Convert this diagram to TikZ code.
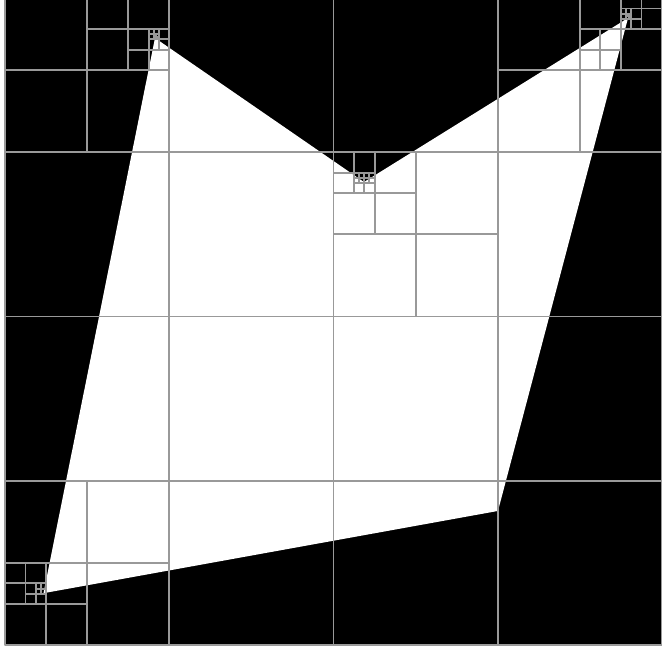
\documentclass[tikz,border=0pt]{standalone}
\begin{document}
\begin{tikzpicture}[x=1pt, y=-1pt, line join=round, line cap=rect,
    cellline/.style={draw=black!40, line width=1.9pt}]
  \useasboundingbox (0,0) rectangle (662,648);
  \clip (0,0) rectangle (662,648);
  \fill[white] (0,0) rectangle (662,648);
  \begin{scope}[shift={(5,-12)}, x=10.266pt, y=-10.266pt]
    % --- background ------------------------------------------------
    \fill[black] (0,0) rectangle (64,64);
    % --- shape -----------------------------------------------------
    \fill[white] (14.61,4.87) -- (34.97,18.90) -- (60.69,2.92)
      -- (48.02,50.94) -- (3.75,58.95) -- cycle;
    % --- quadtree --------------------------------------------------
    \draw[cellline] (0,0) rectangle (64,64);
    \foreach \cx/\cy/\h in {32/32/32,
        16/16/16, 48/16/16, 16/48/16, 48/48/16,
        8/8/8, 56/8/8, 40/24/8, 8/56/8,
        12/4/4, 60/4/4, 36/20/4, 4/60/4,
        14/6/2, 62/2/2, 58/6/2, 34/18/2, 2/58/2,
        15/5/1, 61/3/1, 35/19/1, 3/59/1,
        14.5/4.5/0.5, 60.5/2.5/0.5, 34.5/18.5/0.5, 35.5/18.5/0.5, 3.5/58.5/0.5,
        14.75/4.75/0.25, 60.75/2.75/0.25}
      \draw[cellline] (\cx-\h,\cy) -- (\cx+\h,\cy) (\cx,\cy-\h) -- (\cx,\cy+\h);
  \end{scope}
\end{tikzpicture}
\end{document}
